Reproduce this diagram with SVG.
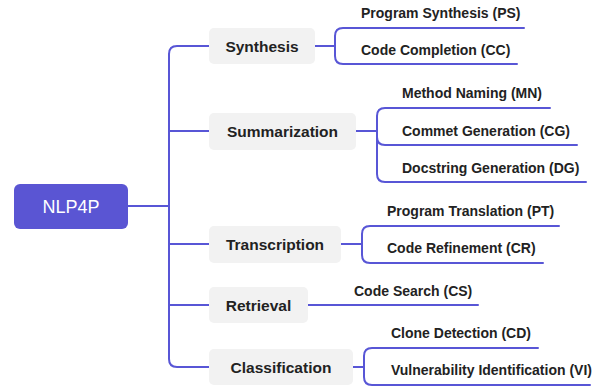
<svg xmlns="http://www.w3.org/2000/svg" width="598" height="387" viewBox="0 0 598 387">
<style>
.c{fill:none;stroke:#5856D6;stroke-width:2;stroke-linecap:round;stroke-linejoin:round}
.box{fill:#F2F2F2}
.bl{font-family:"Liberation Sans",Arial,sans-serif;font-weight:bold;font-size:15.5px;fill:#222;text-anchor:middle;dominant-baseline:central}
.lf{font-family:"Liberation Sans",Arial,sans-serif;font-weight:bold;font-size:14px;fill:#222}
</style>
<rect width="598" height="387" fill="#fff"/>
<g id="connectors">
<path class="c" d="M128,206 H169 M209,46 H177 Q169,46 169,54 V359 Q169,367 177,367 H209 M169,131 H209 M169,244 H209 M169,305 H209"/>
<path class="c" d="M315,46 H335 M524,28 H343 Q335,28 335,36 V56 Q335,64 343,64 H517"/>
<path class="c" d="M356,131 H377 M550,108 H385 Q377,108 377,116 V174 Q377,182 385,182 H586 M377,137 Q377,145 385,145 H577"/>
<path class="c" d="M341,244 H362 M559,226 H370 Q362,226 362,234 V255 Q362,263 370,263 H543"/>
<path class="c" d="M308,305 H478"/>
<path class="c" d="M353,367 H364 M538,348 H372 Q364,348 364,356 V377 Q364,385 372,385 H590"/>
</g>
<g id="root">
<rect x="14" y="184" width="114" height="45" rx="6" fill="#5A55D3"/>
<text x="71" y="207" font-family="Liberation Sans,Arial,sans-serif" font-size="18" fill="#fff" text-anchor="middle" dominant-baseline="central">NLP4P</text>
</g>
<g id="synthesis">
<rect class="box" x="209" y="28" width="106" height="36" rx="5"/>
<text class="bl" x="262" y="46">Synthesis</text>
</g>
<g id="summarization">
<rect class="box" x="209" y="113" width="147" height="37" rx="5"/>
<text class="bl" x="282.5" y="131.5">Summarization</text>
</g>
<g id="transcription">
<rect class="box" x="209" y="226" width="132" height="37" rx="5"/>
<text class="bl" x="275" y="244.5">Transcription</text>
</g>
<g id="retrieval">
<rect class="box" x="209" y="287" width="99" height="36" rx="5"/>
<text class="bl" x="258.5" y="305">Retrieval</text>
</g>
<g id="classification">
<rect class="box" x="209" y="349" width="144" height="36" rx="5"/>
<text class="bl" x="281" y="367">Classification</text>
</g>
<g id="ps"><text class="lf" x="361" y="18">Program Synthesis (PS)</text></g>
<g id="cc"><text class="lf" x="361" y="55">Code Completion (CC)</text></g>
<g id="mn"><text class="lf" x="402" y="98">Method Naming (MN)</text></g>
<g id="cg"><text class="lf" x="402" y="136">Commet Generation (CG)</text></g>
<g id="dg"><text class="lf" x="402" y="173">Docstring Generation (DG)</text></g>
<g id="pt"><text class="lf" x="387" y="216">Program Translation (PT)</text></g>
<g id="cr"><text class="lf" x="387" y="253">Code Refinement (CR)</text></g>
<g id="cs"><text class="lf" x="354" y="296">Code Search (CS)</text></g>
<g id="cd"><text class="lf" x="391" y="338">Clone Detection (CD)</text></g>
<g id="vi"><text class="lf" x="391" y="375">Vulnerability Identification (VI)</text></g>
</svg>
